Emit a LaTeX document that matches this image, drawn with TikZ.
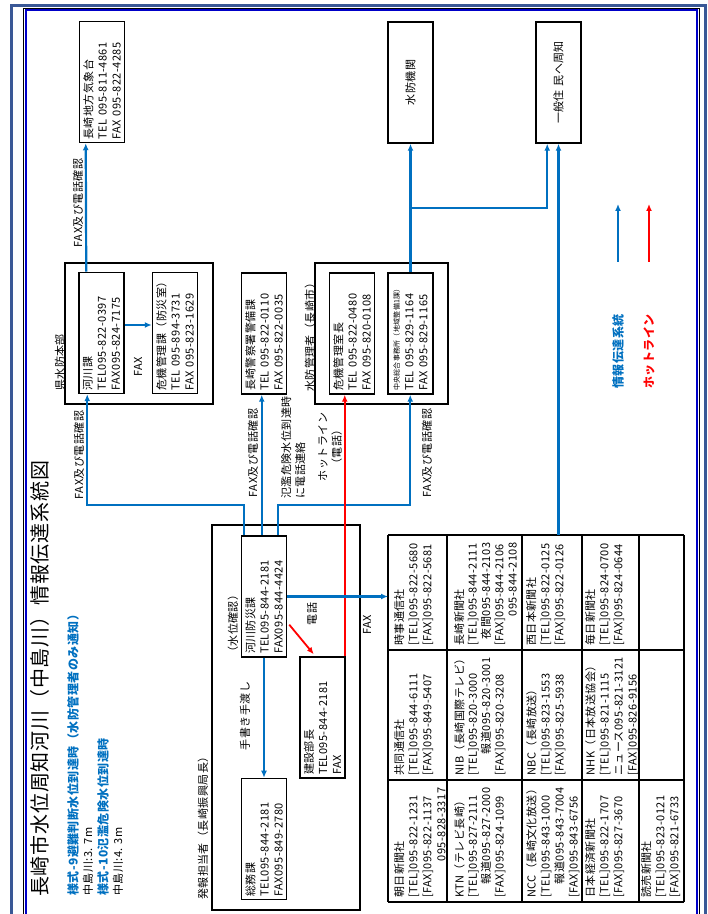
\documentclass[tikz,border=0pt]{standalone}
\usepackage{fontspec}
\setmainfont{Noto Sans CJK JP}[LetterSpace=4]
\usepackage{xcolor}
\usetikzlibrary{calc,arrows.meta,positioning}
\definecolor{flowblue}{RGB}{0,112,192}
\definecolor{framesteel}{RGB}{58,88,150}
\definecolor{framenavy}{RGB}{0,0,200}
\newcommand{\telhd}{[TEL]}
\newcommand{\faxhd}{[FAX]}
\hyphenpenalty=10000
\exhyphenpenalty=10000

\begin{document}
\begin{tikzpicture}
    [x=1pt, y=1pt, >={Latex[length=7pt,width=6pt]},
    line/.style={draw=flowblue, line width=2.2pt}, hot/.style={draw=red, line width=1.8pt},
    every node/.style={font=\fontsize{11}{14}\selectfont}]
    % Define styles for boxes, groups, labels and table cells (all turned on their side)
    \tikzstyle{box} = [draw, line width=1.5pt, rotate=90, align=left, inner xsep=3pt, inner ysep=2pt, minimum height=45pt, text width=115pt]
    \tikzstyle{group} = [draw, line width=1.2pt, rotate=90]
    \tikzstyle{lbl} = [rotate=90, inner sep=1pt]
    \tikzstyle{cell} = [rotate=90, anchor=north west, align=left, inner xsep=4pt, inner ysep=0pt]

    \useasboundingbox (0,0) rectangle (708,914);

    % Page frame
    \draw[framesteel, line width=3pt] (11,-5) -- (11,908) -- (705,908) -- (705,-5);
    \draw[black, line width=0.8pt] (23,-5) -- (23,906) -- (699.5,906) -- (699.5,-5);
    \draw[framenavy, line width=2pt] (25.5,-5) -- (25.5,903.5) -- (696.5,903.5) -- (696.5,-5);

    % Title and notes
    \node [lbl, anchor=west, font=\fontsize{20}{24}\selectfont] (title) at (40,16) {長崎市水位周知河川（中島川）情報伝達系統図};
    \node [lbl, anchor=west, text=flowblue, font=\bfseries\fontsize{12}{14}\selectfont] (note9) at (73,17) {様式-9避難判断水位到達時（水防管理者のみ通知）};
    \node [lbl, anchor=west] (level9) at (88,17) {中島川:3. 7m};
    \node [lbl, anchor=west, text=flowblue, font=\bfseries\fontsize{12}{14}\selectfont] (note10) at (103,17) {様式-10氾濫危険水位到達時};
    \node [lbl, anchor=west] (level10) at (118,17) {中島川:4. 3m};

    % Group frames
    \node [group, minimum width=141pt, minimum height=148pt] (kenhq) at (139,580.5) {};
    \node [lbl, anchor=west] (kenhqlabel) at (60,522) {県水防本部};
    \node [group, minimum width=141pt, minimum height=133pt] (suibogrp) at (381.5,580.5) {};
    \node [lbl, anchor=west] (suibolabel) at (310,521) {水防管理者（長崎市）};
    \node [group, minimum width=385pt, minimum height=148pt] (hatsuho) at (286,196.5) {};
    \node [lbl, anchor=west] (hatsuholabel) at (203,13) {発報担当者（長崎振興局長）};

    % Nodes placement
    \node [box] (kisho) at (102,832) {長崎地方気象台\\TEL~095-811-4861\\FAX~095-822-4285};
    \node [box] (kasenka) at (101.5,581) {河川課\\TEL095-822-0397\\FAX095-824-7175};
    \node [box] (kikika) at (175,581) {危機管理課（防災室）\\TEL~095-894-3731\\FAX~095-823-1629};
    \node [box] (keisatsu) at (264,580.5) {長崎警察署警備課\\TEL~095-822-0110\\FAX~095-822-0035};
    \node [box] (kikikanri) at (352,580.5) {危機管理室長\\TEL~095-822-0480\\FAX~095-820-0108};
    \node [box] (chuo) at (410.5,580.5) {{\fontsize{7}{9}\selectfont 中央総合事務所（地域整備1課）}\\TEL~095-829-1164\\FAX~095-829-1165};
    \node [box] (kasenbo) at (264,317.5) {河川防災課\\TEL095-844-2181\\FAX095-844-4424};
    \node [lbl, anchor=west] (kakunin) at (233,255) {（水位確認）};
    \node [box] (somu) at (264,75) {総務課\\TEL095-844-2181\\FAX095-849-2780};
    \node [box] (kensetsu) at (322.5,196.5) {建設部長\\TEL095-844-2181\\FAX};
    \node [box, align=center] (suibo) at (410.5,831.5) {水防機関};
    \node [box, align=center] (jumin) at (558.5,831.5) {一般住 民へ周知};

    % Media table
    \coordinate (media) at (388,12);
    \coordinate (mediatop) at (388,379);
    \foreach \x in {388,447,522,582,639,684} \draw[line width=1.2pt] (\x,12) -- (\x,379);
    \foreach \y in {12,134,264,379} \draw[line width=1.2pt] (388,\y) -- (684,\y);

    \node [cell, text width=110pt] (asahi) at (394,12) {朝日新聞社\\\telhd 095-822-1231\\\faxhd 095-822-1137\\\hspace*{\fill}095-828-3317};
    \node [cell, text width=118pt] (kyodo) at (394,134) {共同通信社\\\telhd 095-844-6111\\\faxhd 095-849-5407};
    \node [cell, text width=103pt] (jiji) at (394,264) {時事通信社\\\telhd 095-822-5680\\\faxhd 095-822-5681};
    \node [cell, text width=110pt, font=\fontsize{11}{13.3}\selectfont] (ktn) at (454,12) {KTN（テレビ長崎）\\\telhd 095-827-2111\\\hspace*{\fill}報道095-827-2000\\\faxhd 095-824-1099};
    \node [cell, text width=118pt, font=\fontsize{11}{13.3}\selectfont] (nib) at (454,134) {NIB（長崎国際テレビ）\\\telhd 095-820-3000\\\hspace*{\fill}報道095-820-3001\\\faxhd 095-820-3208};
    \node [cell, text width=103pt, font=\fontsize{11}{13.3}\selectfont] (nagasaki) at (454,264) {長崎新聞社\\\telhd 095-844-2111\\\hspace*{\fill}夜間095-844-2103\\\faxhd 095-844-2106\\\hspace*{\fill}095-844-2108};
    \node [cell, text width=110pt] (ncc) at (526,12) {NCC（長崎文化放送）\\\telhd 095-843-1000\\\hspace*{\fill}報道095-843-7004\\\faxhd 095-843-6756};
    \node [cell, text width=118pt] (nbc) at (526,134) {NBC（長崎放送）\\\telhd 095-823-1553\\\faxhd 095-825-5938};
    \node [cell, text width=103pt] (nishi) at (526,264) {西日本新聞社\\\telhd 095-822-0125\\\faxhd 095-822-0126};
    \node [cell, text width=110pt] (nikkei) at (585,12) {日本経済新聞社\\\telhd 095-822-1707\\\faxhd 095-827-3670};
    \node [cell, text width=118pt] (nhk) at (585,134) {NHK（日本放送協会）\\\telhd 095-821-1115\\\hspace*{\fill}ニュース095-821-3121\\\faxhd 095-826-9156};
    \node [cell, text width=103pt] (mainichi) at (585,264) {毎日新聞社\\\telhd 095-824-0700\\\faxhd 095-824-0644};
    \node [cell, text width=110pt] (yomiuri) at (641,12) {読売新聞社\\\telhd 095-823-0121\\\faxhd 095-821-6733};

    % Draw edges
    \draw[line,->] ($(kasenka.north east)+(8,0)$) -- ($(kisho.north west)+(7,0)$);
    \node [lbl] (kishotxt) at (78,711) {FAX及び電話確認};
    \draw[line,->] ($(kasenka.south)+(0,8)$) -- ($(kikika.north)+(0,8)$);
    \node [lbl] (faxken) at (138,547) {FAX};

    \draw[line,->] ($(kasenbo.north east)+(3,0)$) -- ++(0,30) -| ($(kasenka.north west)+(9,0)$);
    \node [lbl] (kentxt) at (79,459) {FAX及び電話確認};
    \draw[line,->] ($(kasenbo.north east)+(21,0)$) -- ($(keisatsu.north west)+(21,0)$);
    \node [lbl] (keisatsutxt) at (253,461) {FAX及び電話確認};
    \draw[line,->] ($(kasenbo.north east)+(37,0)$) -- ++(0,30) -| ($(chuo.north west)+(23,0)$);
    \node [lbl] (chuotxt) at (427,461) {FAX及び電話確認};
    \node [lbl, anchor=north west, align=left] (hanran) at (280,414) {氾濫危険水位到達時\\に電話連絡};

    \draw[line,->] (kasenbo.west) -- (somu.east);
    \node [lbl] (tewatashi) at (245,198) {手書き手渡し};

    % Hot line in red
    \draw[hot,->] ($(kasenbo.south west)!0.27!(kasenbo.south east)+(2,0)$) -- ($(kensetsu.south east)+(-32,2)$);
    \node [lbl] (denwa) at (312,300) {電話};
    \coordinate (hotstart) at ($(kensetsu.south east)+(-1,0)$);
    \draw[hot,->] (hotstart) -- (hotstart |- kikikanri.west);
    \node [lbl, align=center] (hottxt) at (330,467) {ホットライン\\（電話）};

    % FAX to the media and on to the residents
    \draw[line,->] (kasenbo.south) -- (kasenbo.south -| media);
    \node [lbl] (faxmedia) at (367,289) {FAX};
    \draw[line,->] (jumin.west |- mediatop) -- (jumin.west);
    \draw[line,->] (chuo.east) -- (suibo.west);
    \draw[line,->] ($(chuo.east)+(0,64)$) -| ($(jumin.north west)+(12,0)$);

    % Legend
    \coordinate (legblue) at (618,652);
    \coordinate (legred) at (649,652);
    \draw[line,->] (legblue) -- ++(0,58);
    \draw[hot,->] (legred) -- ++(0,58);
    \node [lbl, anchor=west, text=flowblue, font=\bfseries\fontsize{12}{14}\selectfont] (legbluetxt) at (618,524) {情報伝達系統};
    \node [lbl, anchor=west, text=red, font=\bfseries\fontsize{12}{14}\selectfont] (legredtxt) at (649,524) {ホットライン};
\end{tikzpicture}
\end{document}
